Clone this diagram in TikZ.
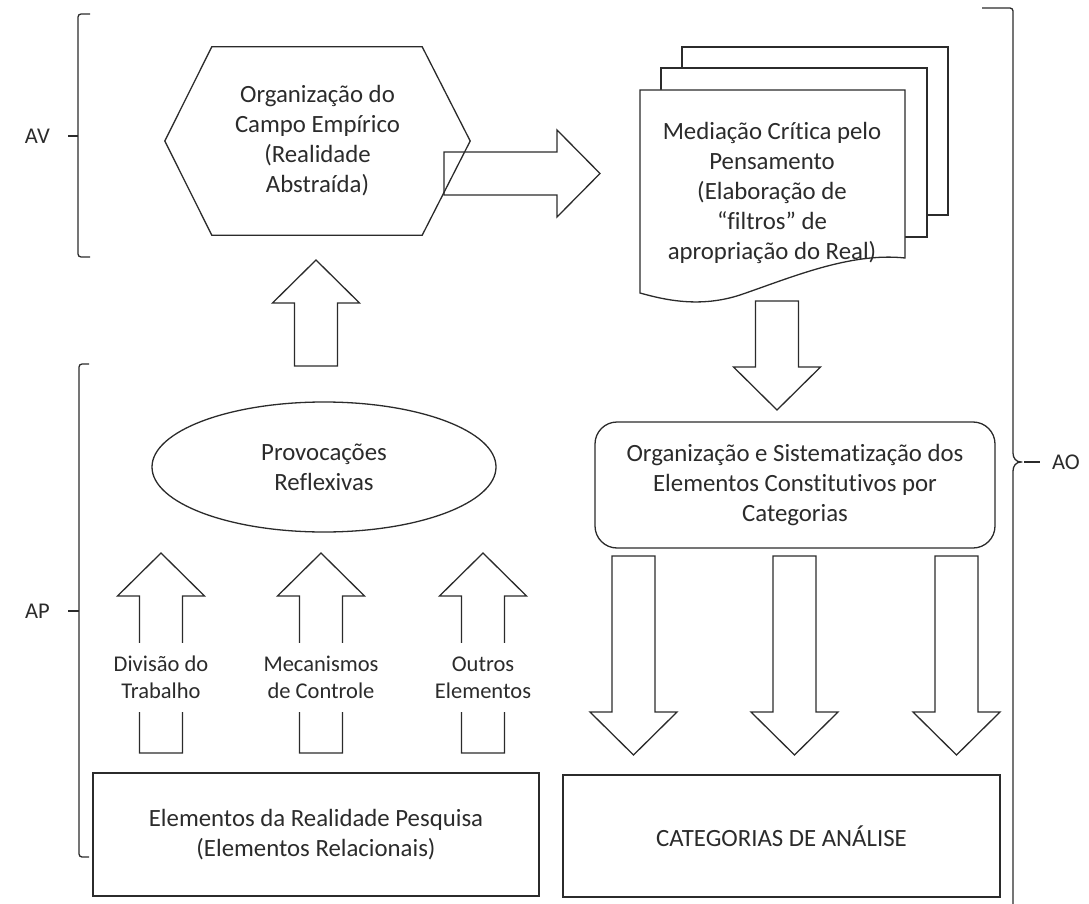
\documentclass[tikz,border=0pt]{standalone}
\usepackage{fontspec}
\setmainfont[Ligatures=NoCommon]{Carlito}
\usetikzlibrary{positioning,calc,shapes.geometric}
\definecolor{ink}{gray}{0.17}
\tikzset{%
txt/.style={font=\fontsize{24.8}{30}\selectfont,text=ink,align=center},
frame/.style={draw=ink,line width=1.3pt},
plainbox/.style={frame,rectangle,inner sep=0,txt},
roundbox/.style={plainbox,rounded corners=22pt},
provoc/.style={frame,ellipse,inner sep=0,txt},
hexholder/.style={rectangle,inner sep=0,minimum width=305pt,minimum height=188pt,txt},
docpage/.style={frame,fill=white},
arrlabel/.style={txt,font=\fontsize{22.5}{27}\selectfont,fill=white,inner sep=0,minimum height=69pt},
brlabel/.style={txt,font=\fontsize{22.5}{27}\selectfont,inner sep=0},
bracket/.style={frame,rounded corners=3pt},
blockarrow/.style={frame,line join=miter},
pics/barrow/.style={code={
  \draw[blockarrow] (0,-21.5) -- ({#1-43},-21.5) -- ({#1-43},-43.5) -- (#1,0)
    -- ({#1-43},43.5) -- ({#1-43},21.5) -- (0,21.5) -- cycle;
}}
}

\begin{document}
\begin{tikzpicture}[x=1pt,y=-1pt]
  \useasboundingbox (0,0) rectangle (1089,904);

  % hexagon
  \node[hexholder] (campo) at (317.5,141) {Organização do\\Campo Empírico\\(Realidade\\Abstraída)};
  \draw[frame] ($(campo.north west)+(47,0)$) -- ($(campo.north east)+(-48,0)$) -- (campo.east)
    -- ($(campo.south east)+(-48,0)$) -- ($(campo.south west)+(47,0)$) -- (campo.west) -- cycle;

  % stack of pages
  \draw[docpage] (682,47) rectangle (948,215);
  \draw[docpage] (661,68) rectangle (927,237);
  \draw[docpage] (640,90) -- (905,90) -- (905,258)
    .. controls (850,252) and (790,278) .. (740,295)
    .. controls (700,308) and (665,300) .. (640,293) -- cycle;
  \node[txt] (mediacao) at (772,193) {Mediação Crítica pelo\\Pensamento\\(Elaboração de\\“filtros” de\\apropriação do Real)};

  \node[provoc,minimum width=344pt,minimum height=130pt] (provocacoes) at (324,467) {Provocações\\Reflexivas};
  \node[roundbox,minimum width=400pt,minimum height=126pt] (sistem) at (795,485)
    {Organização e Sistematização dos\\Elementos Constitutivos por\\Categorias};
  \node[plainbox,minimum width=446pt,minimum height=123pt] (elementos) at (316,834.5)
    {Elementos da Realidade Pesquisa\\(Elementos Relacionais)};
  \node[plainbox,minimum width=437pt,minimum height=122pt] (categorias) at (781.5,836)
    {CATEGORIAS DE ANÁLISE};

  % block arrows
  \pic at (444,173.5) {barrow=156};
  \pic[rotate=90] at (316,366) {barrow=106};
  \pic[rotate=-90] at (777,301) {barrow=109};
  \foreach \x in {161,321,483}
    \pic[rotate=90] at (\x,753) {barrow=200};
  \foreach \x in {633.5,794.5,956.5}
    \pic[rotate=-90] at (\x,556) {barrow=199};

  \node[arrlabel] (divisao) at (161,677.5) {Divisão do\\Trabalho};
  \node[arrlabel] (mecanismos) at (321,677.5) {Mecanismos\\de Controle};
  \node[arrlabel] (outros) at (483,677.5) {Outros\\Elementos};

  % brackets
  \coordinate (avtip) at (68,136);
  \coordinate (aptip) at (68,611);
  \coordinate (aotip) at (1040,462);
  \draw[bracket] (90,14) -- (78,14) -- (78,257) -- (90,257);
  \draw[bracket] (78,136) -- (avtip);
  \draw[bracket] (89,364) -- (79,364) -- (79,857) -- (89,857);
  \draw[bracket] (79,611) -- (aptip);
  \draw[bracket] (982,8) -- (1013,8) -- (1013,450)
    .. controls (1013,458) and (1016,462) .. (1024,462)
    .. controls (1016,462) and (1013,466) .. (1013,474) -- (1013,904);
  \draw[bracket] (1024,462) -- (aotip);
  \node[brlabel,left=18pt of avtip] (av) {AV};
  \node[brlabel,left=18pt of aptip] (ap) {AP};
  \node[brlabel,right=12pt of aotip] (ao) {AO};

\end{tikzpicture}
\end{document}
